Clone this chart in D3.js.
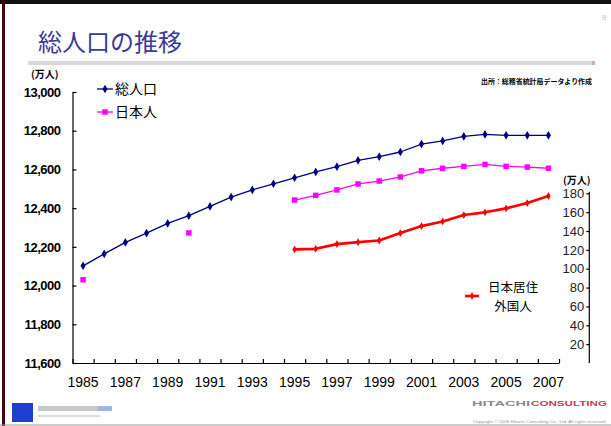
<!DOCTYPE html>
<html>
<head>
<meta charset="utf-8">
<script src="https://cdn.jsdelivr.net/npm/d3@7"></script>
<style>
  body { margin: 0; background: #fff; }
  svg { display: block; font-family: "Liberation Sans", Arial, "Noto Sans CJK JP", sans-serif; }
</style>
</head>
<body>
<svg id="chart" width="611" height="426"></svg>
<script>
// categories and series (万人)
const years = [1985, 1986, 1987, 1988, 1989, 1990, 1991, 1992, 1993, 1994, 1995, 1996,
  1997, 1998, 1999, 2000, 2001, 2002, 2003, 2004, 2005, 2006, 2007];
const totalPop = [12102, 12164, 12223, 12271, 12321, 12361, 12409, 12457, 12494, 12526, 12557, 12587,
  12614, 12647, 12666, 12690, 12731, 12747, 12771, 12781, 12776, 12776, 12776];
const japanesePop = [12030, null, null, null, null, 12272, null, null, null, null, 12442, 12466,
  12494, 12525, 12540, 12561, 12593, 12606, 12616, 12626, 12616, 12612, 12606];
const foreignPop = [null, null, null, null, null, null, null, null, null, null, 120.5, 121.1,
  126.1, 128.2, 130.0, 137.8, 145.2, 150.2, 156.9, 159.8, 164.0, 169.6, 177.1];
const leftTicks = [11600, 11800, 12000, 12200, 12400, 12600, 12800, 13000];
const rightTicks = [20, 40, 60, 80, 100, 120, 140, 160, 180];

const svg = d3.select('#chart');

// page frame
svg.append('rect').attr('x', 0).attr('y', 0).attr('width', 611).attr('height', 4).style('fill', '#111');
svg.append('rect').attr('x', 2).attr('y', 0).attr('width', 3).attr('height', 426).style('fill', '#3a0d0d');
svg.append('line').attr('x1', 0).attr('x2', 611).attr('y1', 425).attr('y2', 425)
  .style('stroke', '#999').style('stroke-width', 1);
svg.append('text').attr('x', 604).attr('y', 20).text('9')
  .style('font-size', '8px').style('fill', '#a9c4d8').attr('text-anchor', 'middle');

// title
svg.append('text').attr('x', 38).attr('y', 51).text('総人口の推移')
  .style('font-size', '24px').style('fill', '#3a3a9a')
  .style('font-family', '"Noto Sans CJK JP", sans-serif');
svg.append('rect').attr('x', 28).attr('y', 61).attr('width', 564).attr('height', 4).style('fill', '#d9d9d9');
svg.append('rect').attr('x', 592).attr('y', 61).attr('width', 3).attr('height', 4).style('fill', '#d9aab5');

svg.append('text').attr('x', 592).attr('y', 84).attr('text-anchor', 'end')
  .attr('textLength', 111).attr('lengthAdjust', 'spacingAndGlyphs')
  .text('出所：総務省統計局データより作成')
  .style('font-size', '7px').style('font-weight', 'bold').style('fill', '#000')
  .style('font-family', '"Noto Sans CJK JP", sans-serif');

// scales
const x = d3.scaleBand().domain(years).range([72.5, 559]).padding(0);
const xi = d3.scaleLinear().domain([0, years.length]).range([72.5, 559]);
const yL = d3.scaleLinear().domain([11600, 13000]).range([363, 92]);
const yR = d3.scaleLinear().domain([0, 180]).range([363, 193.3]);
const cx = d => x(d) + x.bandwidth() / 2;

const g = svg.append('g').attr('class', 'chart-group');

// left axis
const axisL = g.append('g').attr('class', 'axis--y')
  .attr('transform', 'translate(72.5,0)')
  .call(d3.axisLeft(yL).tickValues(leftTicks).tickSizeInner(-4).tickSizeOuter(0)
    .tickPadding(12).tickFormat(d3.format(',')));
axisL.selectAll('text').style('font-size', '13px').style('font-weight', 'bold')
  .style('letter-spacing', '-0.5px').style('fill', '#000');

// x axis: boundary ticks + year labels
g.append('g').attr('class', 'axis--x')
  .attr('transform', 'translate(0,363)')
  .call(d3.axisBottom(xi).tickValues(d3.range(years.length + 1))
    .tickSizeInner(-4).tickSizeOuter(0).tickFormat(''));
const xl = g.append('g').attr('class', 'axis--x-labels')
  .attr('transform', 'translate(0,363)')
  .call(d3.axisBottom(x).tickSize(0).tickPadding(14)
    .tickFormat((d, i) => i % 2 === 0 ? d : ''));
xl.select('.domain').remove();
xl.selectAll('text').style('font-size', '14px').style('fill', '#000');

// right axis
const axisR = g.append('g').attr('class', 'axis--y2')
  .attr('transform', 'translate(589.3,0)')
  .call(d3.axisLeft(yR).tickValues(rightTicks).tickSizeInner(3).tickSizeOuter(0).tickPadding(2));
axisR.select('.domain').attr('d', `M0,${yR(180) - 1.5}V363`);
axisR.selectAll('text').style('font-size', '13px').style('fill', '#222');

g.selectAll('.domain, .tick line').style('stroke', '#000').style('stroke-width', 1.2);

// unit labels
svg.append('text').attr('x', 31).attr('y', 78).text('(万人)')
  .style('font-size', '10px').style('font-weight', 'bold')
  .style('font-family', '"Noto Sans CJK JP", sans-serif');
svg.append('text').attr('x', 563).attr('y', 184).text('(万人)')
  .style('font-size', '10px').style('font-weight', 'bold')
  .style('font-family', '"Noto Sans CJK JP", sans-serif');

// series
const series = [
  { key: 'total', values: totalPop, y: yL, color: '#000080', width: 1.3, symbol: d3.symbolDiamond, size: 22 },
  { key: 'japanese', values: japanesePop, y: yL, color: '#ff00ff', width: 1.3, symbol: d3.symbolSquare, size: 30 },
  { key: 'foreign', values: foreignPop, y: yR, color: '#ff0000', width: 2.6, symbol: d3.symbolDiamond, size: 18 },
];

series.forEach(s => {
  const pts = years.map((yr, i) => ({ yr, v: s.values[i] }));
  const line = d3.line()
    .defined(d => d.v !== null)
    .x(d => cx(d.yr))
    .y(d => s.y(d.v));
  g.append('path').datum(pts)
    .attr('d', line)
    .style('fill', 'none').style('stroke', s.color).style('stroke-width', s.width)
    .style('stroke-linejoin', 'round');
  g.append('g').selectAll('path')
    .data(pts.filter(d => d.v !== null))
    .join('path')
    .attr('transform', d => `translate(${cx(d.yr)},${s.y(d.v)})`)
    .attr('d', d3.symbol().type(s.symbol).size(s.size))
    .style('fill', s.color);
});

// legends
const legend = [
  { label: ['総人口'], color: '#000080', width: 1.3, symbol: d3.symbolDiamond, size: 22, x1: 97, x2: 113, y: 89, tx: 115, anchor: 'start', fs: 14 },
  { label: ['日本人'], color: '#ff00ff', width: 1.3, symbol: d3.symbolSquare, size: 30, x1: 97, x2: 113, y: 112, tx: 115, anchor: 'start', fs: 14 },
  { label: ['日本居住', '外国人'], color: '#ff0000', width: 2.6, symbol: d3.symbolDiamond, size: 18, x1: 465, x2: 479, y: 296, tx: 513, anchor: 'middle', fs: 12.5 },
];
legend.forEach(l => {
  const lg = svg.append('g').attr('class', 'legend');
  lg.append('line').attr('x1', l.x1).attr('x2', l.x2).attr('y1', l.y).attr('y2', l.y)
    .style('stroke', l.color).style('stroke-width', l.width);
  lg.append('path').attr('transform', `translate(${(l.x1 + l.x2) / 2},${l.y})`)
    .attr('d', d3.symbol().type(l.symbol).size(l.size)).style('fill', l.color);
  const baseY = l.label.length === 1 ? [l.y + 5] : [l.y - 4, l.y + 15];
  l.label.forEach((txt, i) => {
    lg.append('text').attr('x', l.tx).attr('y', baseY[i]).attr('text-anchor', l.anchor)
      .text(txt)
      .style('font-size', l.fs + 'px').style('fill', '#000')
      .style('font-family', '"Noto Sans CJK JP", sans-serif');
  });
});

// footer logos
svg.append('rect').attr('x', 12).attr('y', 403).attr('width', 21).attr('height', 19).style('fill', '#1f3fd0');
svg.append('rect').attr('x', 38).attr('y', 406).attr('width', 60).attr('height', 5).style('fill', '#c8c8c8');
svg.append('rect').attr('x', 98).attr('y', 406).attr('width', 14).attr('height', 5).style('fill', '#9fb3ec');
svg.append('rect').attr('x', 38).attr('y', 415).attr('width', 62).attr('height', 2).style('fill', '#dcdcdc');
svg.append('text').attr('x', 472).attr('y', 406).attr('textLength', 58).attr('lengthAdjust', 'spacingAndGlyphs')
  .text('HITACHI').style('font-size', '7px').style('font-weight', 'bold').style('fill', '#8a8a8a');
svg.append('text').attr('x', 531).attr('y', 406).attr('textLength', 76).attr('lengthAdjust', 'spacingAndGlyphs')
  .text('CONSULTING').style('font-size', '7px').style('font-weight', 'bold').style('fill', '#c83a55');
svg.append('text').attr('x', 473).attr('y', 423).attr('textLength', 134).attr('lengthAdjust', 'spacingAndGlyphs')
  .text('Copyright © 2008 Hitachi Consulting Co., Ltd. All rights reserved.')
  .style('font-size', '4px').style('fill', '#999');
</script>
</body>
</html>
